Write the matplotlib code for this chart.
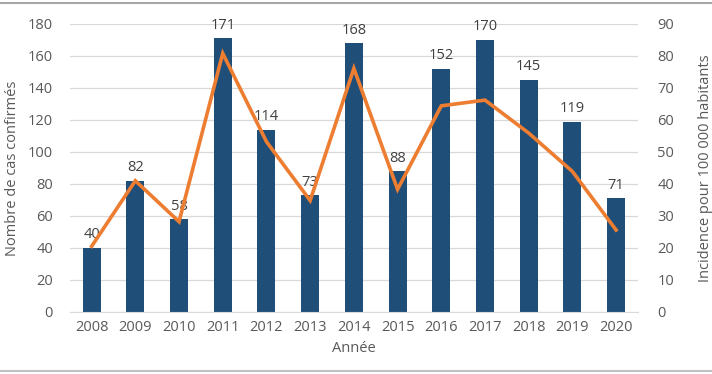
import matplotlib.pyplot as plt
import matplotlib.lines as mlines

# Data
annees = ['2008', '2009', '2010', '2011', '2012', '2013', '2014',
          '2015', '2016', '2017', '2018', '2019', '2020']
cas_confirmes = [40, 82, 58, 171, 114, 73, 168, 88, 152, 170, 145, 119, 71]
incidence = [20.5, 41, 28.2, 80.8, 53.2, 34.8, 76.1, 38.3, 64.4, 66.2, 55.9, 43.9, 25.6]

bar_color = '#1F4E79'
line_color = '#ED7D31'
text_color = '#595959'
grid_color = '#D9D9D9'

plt.rcParams['font.family'] = ['Open Sans', 'DejaVu Sans']

fig = plt.figure(figsize=(7.12, 3.74), dpi=100)
ax = fig.add_axes([0.098, 0.166, 0.798, 0.770])
ax2 = ax.twinx()

x = list(range(len(annees)))
ax.bar(x, cas_confirmes, width=0.41, color=bar_color, zorder=2)
for xi, v in zip(x, cas_confirmes):
    ax.annotate(str(v), (xi, v), xytext=(0, 4), textcoords='offset points',
                ha='center', va='bottom', fontsize=10.5, color='#404040')

ax2.plot(x, incidence, color=line_color, lw=2.6, solid_joinstyle='miter', zorder=3)

ax.set_xlim(-0.5, len(annees) - 0.5)
ax.set_ylim(0, 180)
ax.set_yticks(range(0, 181, 20))
ax2.set_ylim(0, 90)
ax2.set_yticks(range(0, 91, 10))
ax.set_xticks(x)
ax.set_xticklabels(annees)

ax.yaxis.grid(True, color=grid_color, lw=0.9, zorder=0)
ax.set_axisbelow(True)
for a in (ax, ax2):
    for s in a.spines.values():
        s.set_visible(False)
    a.tick_params(length=0, labelsize=10.5, labelcolor=text_color)
ax.spines['bottom'].set_visible(True)
ax.spines['bottom'].set_color(grid_color)
ax.tick_params(axis='y', pad=12)
ax.tick_params(axis='x', pad=6)
ax2.tick_params(axis='y', pad=14)

ax.set_xlabel('Année', fontsize=10.5, color=text_color, labelpad=4)
ax.set_ylabel('Nombre de cas confirmés', fontsize=10.5, color=text_color)
ax2.set_ylabel('Incidence pour 100 000 habitants', fontsize=10.5, color=text_color)
ax.yaxis.set_label_coords(-0.088, 0.5)
ax2.yaxis.set_label_coords(1.105, 0.5)

# Frame lines at top and bottom of the picture
fig.add_artist(mlines.Line2D([0, 1], [0.993, 0.993], color='#A6A6A6', lw=1.5))
fig.add_artist(mlines.Line2D([0, 1], [0.008, 0.008], color='#BFBFBF', lw=1.5))

fig.savefig('out.png', dpi=100)
